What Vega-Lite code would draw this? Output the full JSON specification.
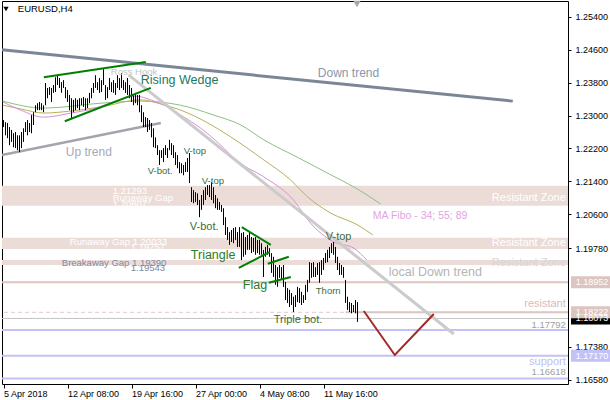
{
"$schema":"https://vega.github.io/schema/vega-lite/v6.json",
"width":566,"height":383,
"autosize":{"type":"none"},
"padding":{"left":2,"top":1,"right":42,"bottom":16},
"background":"#ffffff",
"config":{"view":{"stroke":"#000000","strokeWidth":1},"font":"Liberation Sans","text":{"font":"Liberation Sans"},"axis":{"grid":false,"domain":false,"labelFont":"Liberation Sans","labelFontSize":9,"labelColor":"#000000","tickColor":"#000000"}},
"layer":[
{"data":{"values":[{"p":1.20807,"p2":1.21293},{"p":1.19757,"p2":1.20033},{"p":1.1937,"p2":1.1949}]},
 "mark":{"type":"rect","color":"#ecdcd8"},
 "encoding":{"y":{"field":"p","type":"quantitative","scale":{"domain":[1.164815,1.25781],"nice":false,"zero":false}},"y2":{"field":"p2"}}},
{"data":{"values":[{"p":1.18952}]},"mark":{"type":"rule","color":"#dcc4c0","strokeWidth":2},
 "encoding":{"y":{"field":"p","type":"quantitative","scale":{"domain":[1.164815,1.25781],"nice":false,"zero":false}}}},
{"data":{"values":[{"p":1.18222}]},"mark":{"type":"rule","color":"#e2cccc","strokeWidth":1,"strokeDash":[4,3]},
 "encoding":{"y":{"field":"p","type":"quantitative","scale":{"domain":[1.164815,1.25781],"nice":false,"zero":false}}}},
{"data":{"values":[{"p":1.18222}]},"mark":{"type":"rule","color":"#dcc4c0","strokeWidth":2},
 "encoding":{"x":{"datum":171,"type":"quantitative","scale":{"domain":[-0.75,282.25],"nice":false,"zero":false}},"x2":{"datum":282.25},
 "y":{"field":"p","type":"quantitative","scale":{"domain":[1.164815,1.25781],"nice":false,"zero":false}}}},
{"data":{"values":[{"p":1.18073}]},"mark":{"type":"rule","color":"#c4c4c4","strokeWidth":1},
 "encoding":{"y":{"field":"p","type":"quantitative","scale":{"domain":[1.164815,1.25781],"nice":false,"zero":false}}}},
{"data":{"values":[{"p":1.17792},{"p":1.1717},{"p":1.16618}]},"mark":{"type":"rule","color":"#c2c2f6","strokeWidth":2},
 "encoding":{"y":{"field":"p","type":"quantitative","scale":{"domain":[1.164815,1.25781],"nice":false,"zero":false}}}},
{"data":{"values":[{"i":-0.35,"p":1.2335},{"i":20.15,"p":1.2318},{"i":48.65,"p":1.2330},{"i":68.65,"p":1.2335},{"i":88.65,"p":1.2325},{"i":105.15,"p":1.2301},{"i":118.65,"p":1.2277},{"i":130.15,"p":1.2241},{"i":147.65,"p":1.2197},{"i":163.65,"p":1.2156},{"i":176.15,"p":1.2124},{"i":188.65,"p":1.2085}]},
 "mark":{"type":"line","color":"#8cbf84","strokeWidth":1,"interpolate":"monotone"},
 "encoding":{"x":{"field":"i","type":"quantitative","scale":{"domain":[-0.75,282.25],"nice":false,"zero":false}},"y":{"field":"p","type":"quantitative","scale":{"domain":[1.164815,1.25781],"nice":false,"zero":false}}}},
{"data":{"values":[{"i":-0.35,"p":1.2325},{"i":8.65,"p":1.2316},{"i":20.15,"p":1.2306},{"i":33.65,"p":1.2311},{"i":48.65,"p":1.2321},{"i":68.65,"p":1.2338},{"i":78.65,"p":1.2328},{"i":88.65,"p":1.2313},{"i":102.15,"p":1.2282},{"i":113.65,"p":1.2248},{"i":129.65,"p":1.2194},{"i":143.65,"p":1.2143},{"i":152.15,"p":1.2102},{"i":163.65,"p":1.2063},{"i":177.15,"p":1.2034},{"i":184.65,"p":1.2010}]},
 "mark":{"type":"line","color":"#b8b058","strokeWidth":1,"interpolate":"monotone"},
 "encoding":{"x":{"field":"i","type":"quantitative","scale":{"domain":[-0.75,282.25],"nice":false,"zero":false}},"y":{"field":"p","type":"quantitative","scale":{"domain":[1.164815,1.25781],"nice":false,"zero":false}}}},
{"data":{"values":[{"i":-0.35,"p":1.2333},{"i":8.65,"p":1.2313},{"i":20.15,"p":1.2296},{"i":33.65,"p":1.2306},{"i":46.15,"p":1.2318},{"i":56.15,"p":1.2335},{"i":66.15,"p":1.2347},{"i":73.65,"p":1.2338},{"i":81.15,"p":1.2323},{"i":88.65,"p":1.2301},{"i":98.65,"p":1.2269},{"i":108.65,"p":1.2228},{"i":116.15,"p":1.2192},{"i":130.15,"p":1.2151},{"i":143.65,"p":1.2102},{"i":155.15,"p":1.2030},{"i":165.15,"p":1.1993},{"i":175.15,"p":1.1978},{"i":181.65,"p":1.1949}]},
 "mark":{"type":"line","color":"#d98fd9","strokeWidth":1,"interpolate":"monotone"},
 "encoding":{"x":{"field":"i","type":"quantitative","scale":{"domain":[-0.75,282.25],"nice":false,"zero":false}},"y":{"field":"p","type":"quantitative","scale":{"domain":[1.164815,1.25781],"nice":false,"zero":false}}}},
{"data":{"values":[{"i":-0.75,"p":1.24595},{"i":254.65,"p":1.2335}]},
 "mark":{"type":"line","color":"#7b8797","strokeWidth":3},
 "encoding":{"x":{"field":"i","type":"quantitative","scale":{"domain":[-0.75,282.25],"nice":false,"zero":false}},"y":{"field":"p","type":"quantitative","scale":{"domain":[1.164815,1.25781],"nice":false,"zero":false}}}},
{"data":{"values":[{"i":-0.75,"p":1.2204},{"i":78.65,"p":1.2282}]},
 "mark":{"type":"line","color":"#a4a4ac","strokeWidth":2.5},
 "encoding":{"x":{"field":"i","type":"quantitative","scale":{"domain":[-0.75,282.25],"nice":false,"zero":false}},"y":{"field":"p","type":"quantitative","scale":{"domain":[1.164815,1.25781],"nice":false,"zero":false}}}},
{"data":{"values":[{"i":62.65,"p":1.2398},{"i":225.15,"p":1.17696}]},
 "mark":{"type":"line","color":"#cbcbcb","strokeWidth":3},
 "encoding":{"x":{"field":"i","type":"quantitative","scale":{"domain":[-0.75,282.25],"nice":false,"zero":false}},"y":{"field":"p","type":"quantitative","scale":{"domain":[1.164815,1.25781],"nice":false,"zero":false}}}},
{"data":{"values":[
{"i":0,"h":1.2289,"l":1.2272},{"i":1,"h":1.2284,"l":1.2252},{"i":2,"h":1.2282,"l":1.2245},{"i":3,"h":1.2272,"l":1.2228},{"i":4,"h":1.2265,"l":1.2236},{"i":5,"h":1.2257,"l":1.2223},{"i":6,"h":1.2260,"l":1.2221},{"i":7,"h":1.2252,"l":1.2216},{"i":8,"h":1.2252,"l":1.2211},{"i":9,"h":1.2260,"l":1.2221},
{"i":10,"h":1.2269,"l":1.2236},{"i":11,"h":1.2284,"l":1.2260},{"i":12,"h":1.2289,"l":1.2252},{"i":13,"h":1.2282,"l":1.2260},{"i":14,"h":1.2301,"l":1.2257},{"i":15,"h":1.2308,"l":1.2277},{"i":16,"h":1.2325,"l":1.2308},{"i":17,"h":1.2330,"l":1.2313},{"i":18,"h":1.2333,"l":1.2313},{"i":19,"h":1.2330,"l":1.2313},
{"i":20,"h":1.2325,"l":1.2308},{"i":21,"h":1.2379,"l":1.2325},{"i":22,"h":1.2367,"l":1.2342},{"i":23,"h":1.2369,"l":1.2350},{"i":24,"h":1.2367,"l":1.2333},{"i":25,"h":1.2374,"l":1.2355},{"i":26,"h":1.2393,"l":1.2357},{"i":27,"h":1.2398,"l":1.2374},{"i":28,"h":1.2391,"l":1.2367},{"i":29,"h":1.2381,"l":1.2355},
{"i":30,"h":1.2386,"l":1.2367},{"i":31,"h":1.2369,"l":1.2342},{"i":32,"h":1.2362,"l":1.2333},{"i":33,"h":1.2350,"l":1.2313},{"i":34,"h":1.2342,"l":1.2294},{"i":35,"h":1.2338,"l":1.2308},{"i":36,"h":1.2342,"l":1.2313},{"i":37,"h":1.2338,"l":1.2318},{"i":38,"h":1.2342,"l":1.2313},{"i":39,"h":1.2342,"l":1.2325},
{"i":40,"h":1.2345,"l":1.2321},{"i":41,"h":1.2342,"l":1.2313},{"i":42,"h":1.2342,"l":1.2318},{"i":43,"h":1.2355,"l":1.2330},{"i":44,"h":1.2367,"l":1.2342},{"i":45,"h":1.2379,"l":1.2355},{"i":46,"h":1.2398,"l":1.2367},{"i":47,"h":1.2381,"l":1.2362},{"i":48,"h":1.2391,"l":1.2355},{"i":49,"h":1.2386,"l":1.2357},
{"i":50,"h":1.2415,"l":1.2374},{"i":51,"h":1.2374,"l":1.2338},{"i":52,"h":1.2369,"l":1.2342},{"i":53,"h":1.2391,"l":1.2362},{"i":54,"h":1.2381,"l":1.2357},{"i":55,"h":1.2386,"l":1.2355},{"i":56,"h":1.2379,"l":1.2350},{"i":57,"h":1.2398,"l":1.2367},{"i":58,"h":1.2391,"l":1.2362},{"i":59,"h":1.2403,"l":1.2367},
{"i":60,"h":1.2386,"l":1.2362},{"i":61,"h":1.2381,"l":1.2355},{"i":62,"h":1.2391,"l":1.2350},{"i":63,"h":1.2374,"l":1.2342},{"i":64,"h":1.2367,"l":1.2333},{"i":65,"h":1.2350,"l":1.2325},{"i":66,"h":1.2355,"l":1.2330},{"i":67,"h":1.2350,"l":1.2325},{"i":68,"h":1.2350,"l":1.2308},{"i":69,"h":1.2325,"l":1.2284},
{"i":70,"h":1.2308,"l":1.2272},{"i":71,"h":1.2296,"l":1.2272},{"i":72,"h":1.2294,"l":1.2260},{"i":73,"h":1.2289,"l":1.2265},{"i":74,"h":1.2282,"l":1.2247},{"i":75,"h":1.2269,"l":1.2223},{"i":76,"h":1.2247,"l":1.2221},{"i":77,"h":1.2228,"l":1.2204},{"i":78,"h":1.2216,"l":1.2180},{"i":79,"h":1.2216,"l":1.2197},
{"i":80,"h":1.2221,"l":1.2187},{"i":81,"h":1.2228,"l":1.2204},{"i":82,"h":1.2221,"l":1.2197},{"i":83,"h":1.2241,"l":1.2216},{"i":84,"h":1.2233,"l":1.2204},{"i":85,"h":1.2228,"l":1.2197},{"i":86,"h":1.2211,"l":1.2180},{"i":87,"h":1.2204,"l":1.2172},{"i":88,"h":1.2187,"l":1.2160},{"i":89,"h":1.2184,"l":1.2160},
{"i":90,"h":1.2180,"l":1.2155},{"i":91,"h":1.2187,"l":1.2163},{"i":92,"h":1.2197,"l":1.2163},{"i":93,"h":1.2209,"l":1.2136},{"i":94,"h":1.2126,"l":1.2090},{"i":95,"h":1.2119,"l":1.2087},{"i":96,"h":1.2114,"l":1.2090},{"i":97,"h":1.2111,"l":1.2083},{"i":98,"h":1.2095,"l":1.2053},{"i":99,"h":1.2107,"l":1.2071},
{"i":100,"h":1.2119,"l":1.2083},{"i":101,"h":1.2126,"l":1.2095},{"i":102,"h":1.2131,"l":1.2107},{"i":103,"h":1.2131,"l":1.2102},{"i":104,"h":1.2138,"l":1.2095},{"i":105,"h":1.2126,"l":1.2087},{"i":106,"h":1.2107,"l":1.2075},{"i":107,"h":1.2099,"l":1.2071},{"i":108,"h":1.2090,"l":1.2071},{"i":109,"h":1.2083,"l":1.2066},
{"i":110,"h":1.2075,"l":1.2034},{"i":111,"h":1.2053,"l":1.2010},{"i":112,"h":1.2029,"l":1.1998},{"i":113,"h":1.2017,"l":1.1986},{"i":114,"h":1.2022,"l":1.1993},{"i":115,"h":1.2027,"l":1.1990},{"i":116,"h":1.2029,"l":1.1998},{"i":117,"h":1.2017,"l":1.1981},{"i":118,"h":1.2029,"l":1.1981},{"i":119,"h":1.2015,"l":1.1949},
{"i":120,"h":1.2017,"l":1.1957},{"i":121,"h":1.2005,"l":1.1962},{"i":122,"h":1.2010,"l":1.1974},{"i":123,"h":1.2017,"l":1.1974},{"i":124,"h":1.2005,"l":1.1966},{"i":125,"h":1.2003,"l":1.1969},{"i":126,"h":1.2005,"l":1.1962},{"i":127,"h":1.1998,"l":1.1966},{"i":128,"h":1.1998,"l":1.1962},{"i":129,"h":1.1990,"l":1.1962},
{"i":130,"h":1.1974,"l":1.1908},{"i":131,"h":1.1981,"l":1.1957},{"i":132,"h":1.1986,"l":1.1962},{"i":133,"h":1.1978,"l":1.1957},{"i":134,"h":1.1966,"l":1.1918},{"i":135,"h":1.1957,"l":1.1908},{"i":136,"h":1.1937,"l":1.1889},{"i":137,"h":1.1932,"l":1.1884},{"i":138,"h":1.1937,"l":1.1906},{"i":139,"h":1.1932,"l":1.1901},
{"i":140,"h":1.1937,"l":1.1884},{"i":141,"h":1.1896,"l":1.1852},{"i":142,"h":1.1881,"l":1.1845},{"i":143,"h":1.1877,"l":1.1835},{"i":144,"h":1.1869,"l":1.1840},{"i":145,"h":1.1860,"l":1.1823},{"i":146,"h":1.1864,"l":1.1835},{"i":147,"h":1.1884,"l":1.1847},{"i":148,"h":1.1881,"l":1.1845},{"i":149,"h":1.1872,"l":1.1840},
{"i":150,"h":1.1864,"l":1.1845},{"i":151,"h":1.1889,"l":1.1852},{"i":152,"h":1.1901,"l":1.1872},{"i":153,"h":1.1944,"l":1.1894},{"i":154,"h":1.1942,"l":1.1906},{"i":155,"h":1.1944,"l":1.1908},{"i":156,"h":1.1932,"l":1.1908},{"i":157,"h":1.1942,"l":1.1913},{"i":158,"h":1.1944,"l":1.1894},{"i":159,"h":1.1949,"l":1.1913},
{"i":160,"h":1.1954,"l":1.1925},{"i":161,"h":1.1966,"l":1.1942},{"i":162,"h":1.1974,"l":1.1944},{"i":163,"h":1.1981,"l":1.1954},{"i":164,"h":1.1990,"l":1.1966},{"i":165,"h":1.1993,"l":1.1962},{"i":166,"h":1.1981,"l":1.1942},{"i":167,"h":1.1957,"l":1.1925},{"i":168,"h":1.1942,"l":1.1913},{"i":169,"h":1.1937,"l":1.1913},
{"i":170,"h":1.1932,"l":1.1906},{"i":171,"h":1.1901,"l":1.1845},{"i":172,"h":1.1860,"l":1.1828},{"i":173,"h":1.1847,"l":1.1823},{"i":174,"h":1.1845,"l":1.1820},{"i":175,"h":1.1840,"l":1.1823},{"i":176,"h":1.1852,"l":1.1820},{"i":177,"h":1.1847,"l":1.1799}]},
 "mark":{"type":"rule","color":"#000000","strokeWidth":1},
 "encoding":{
  "x":{"field":"i","type":"quantitative","scale":{"domain":[-0.75,282.25],"nice":false,"zero":false},
   "axis":{"orient":"bottom","values":[0,32,64,96,128,160],"labelExpr":"datum.value == 0 ? '5 Apr 2018' : datum.value == 32 ? '12 Apr 08:00' : datum.value == 64 ? '19 Apr 16:00' : datum.value == 96 ? '27 Apr 00:00' : datum.value == 128 ? '4 May 08:00' : '11 May 16:00'","title":null,"grid":false,"domain":false,"ticks":true,"tickColor":"#000000","tickSize":4,"labelAlign":"left","labelBaseline":"top","labelPadding":1,"labelFont":"Liberation Sans","labelFontSize":9,"labelColor":"#000000","labelOverlap":false,"labelFlush":false,"labelBound":false}},
  "y":{"field":"l","type":"quantitative","scale":{"domain":[1.164815,1.25781],"nice":false,"zero":false},
   "axis":{"orient":"right","values":[1.254,1.246,1.238,1.23,1.222,1.214,1.206,1.1978,1.1738,1.1658],"format":".5f","title":null,"grid":false,"domain":false,"tickColor":"#000000","tickSize":3,"labelPadding":4,"labelFont":"Liberation Sans","labelFontSize":9,"labelColor":"#000000","labelOverlap":false,"labelFlush":false,"labelBound":false}},
  "y2":{"field":"h"}}},
{"data":{"values":[
 {"id":"wu","i":20.15,"p":1.2393},{"id":"wu","i":71.15,"p":1.2430},
 {"id":"wl","i":30.65,"p":1.2286},{"id":"wl","i":73.65,"p":1.2367},
 {"id":"tu","i":119.15,"p":1.2029},{"id":"tu","i":133.65,"p":1.1986},
 {"id":"tl","i":117.65,"p":1.1930},{"id":"tl","i":133.15,"p":1.1969},
 {"id":"fu","i":132.15,"p":1.1940},{"id":"fu","i":142.65,"p":1.1957},
 {"id":"fl","i":132.65,"p":1.1894},{"id":"fl","i":143.65,"p":1.1908}]},
 "mark":{"type":"line","color":"#008000","strokeWidth":2},
 "encoding":{"detail":{"field":"id"},"x":{"field":"i","type":"quantitative","scale":{"domain":[-0.75,282.25],"nice":false,"zero":false}},"y":{"field":"p","type":"quantitative","scale":{"domain":[1.164815,1.25781],"nice":false,"zero":false}}}},
{"data":{"values":[{"i":180.15,"p":1.18254},{"i":195.65,"p":1.17186},{"i":215.15,"p":1.18181}]},
 "mark":{"type":"line","color":"#a52a2a","strokeWidth":2},
 "encoding":{"x":{"field":"i","type":"quantitative","scale":{"domain":[-0.75,282.25],"nice":false,"zero":false}},"y":{"field":"p","type":"quantitative","scale":{"domain":[1.164815,1.25781],"nice":false,"zero":false}}}},
{"data":{"values":[{"i":1.25,"p":1.25587}]},"mark":{"type":"point","shape":"triangle-down","filled":true,"color":"#000000","size":28,"opacity":1},
 "encoding":{"x":{"field":"i","type":"quantitative","scale":{"domain":[-0.75,282.25],"nice":false,"zero":false}},"y":{"field":"p","type":"quantitative","scale":{"domain":[1.164815,1.25781],"nice":false,"zero":false}}}},
{"data":{"values":[{"i":176.75,"p":1.25708}]},"mark":{"type":"point","shape":"triangle-down","filled":true,"color":"#a8a8a8","size":55,"opacity":1},
 "encoding":{"x":{"field":"i","type":"quantitative","scale":{"domain":[-0.75,282.25],"nice":false,"zero":false}},"y":{"field":"p","type":"quantitative","scale":{"domain":[1.164815,1.25781],"nice":false,"zero":false}}}},
{"data":{"values":[{"i":7.15,"p":1.2559,"t":"EURUSD,H4"}]},"mark":{"type":"text","align":"left","baseline":"middle","fontSize":9.5,"color":"#000000"},
 "encoding":{"x":{"field":"i","type":"quantitative","scale":{"domain":[-0.75,282.25],"nice":false,"zero":false}},"y":{"field":"p","type":"quantitative","scale":{"domain":[1.164815,1.25781],"nice":false,"zero":false}},"text":{"field":"t"}}},
{"data":{"values":[{"i":53.65,"p":1.2406,"t":"Ross Hook"}]},"mark":{"type":"text","align":"left","baseline":"middle","fontSize":9.5,"color":"#c4c4c4"},
 "encoding":{"x":{"field":"i","type":"quantitative","scale":{"domain":[-0.75,282.25],"nice":false,"zero":false}},"y":{"field":"p","type":"quantitative","scale":{"domain":[1.164815,1.25781],"nice":false,"zero":false}},"text":{"field":"t"}}},
{"data":{"values":[{"i":68.65,"p":1.2386,"t":"Rising Wedge"}]},"mark":{"type":"text","align":"left","baseline":"middle","fontSize":12.5,"color":"#1b7a5e"},
 "encoding":{"x":{"field":"i","type":"quantitative","scale":{"domain":[-0.75,282.25],"nice":false,"zero":false}},"y":{"field":"p","type":"quantitative","scale":{"domain":[1.164815,1.25781],"nice":false,"zero":false}},"text":{"field":"t"}}},
{"data":{"values":[{"i":157.15,"p":1.2403,"t":"Down trend"}]},"mark":{"type":"text","align":"left","baseline":"middle","fontSize":12,"color":"#8a96aa"},
 "encoding":{"x":{"field":"i","type":"quantitative","scale":{"domain":[-0.75,282.25],"nice":false,"zero":false}},"y":{"field":"p","type":"quantitative","scale":{"domain":[1.164815,1.25781],"nice":false,"zero":false}},"text":{"field":"t"}}},
{"data":{"values":[{"i":31.15,"p":1.2211,"t":"Up trend"}]},"mark":{"type":"text","align":"left","baseline":"middle","fontSize":12,"color":"#a8a8b8"},
 "encoding":{"x":{"field":"i","type":"quantitative","scale":{"domain":[-0.75,282.25],"nice":false,"zero":false}},"y":{"field":"p","type":"quantitative","scale":{"domain":[1.164815,1.25781],"nice":false,"zero":false}},"text":{"field":"t"}}},
{"data":{"values":[{"i":72.15,"p":1.2165,"t":"V-bot."},{"i":90.15,"p":1.2214,"t":"V-top"},{"i":99.15,"p":1.2141,"t":"V-top"},{"i":156.15,"p":1.1874,"t":"Thorn"}]},"mark":{"type":"text","align":"left","baseline":"middle","fontSize":9.5,"color":"#3a6e3a"},
 "encoding":{"x":{"field":"i","type":"quantitative","scale":{"domain":[-0.75,282.25],"nice":false,"zero":false}},"y":{"field":"p","type":"quantitative","scale":{"domain":[1.164815,1.25781],"nice":false,"zero":false}},"text":{"field":"t"}}},
{"data":{"values":[{"i":93.15,"p":1.2029,"t":"V-bot."},{"i":161.15,"p":1.2005,"t":"V-top"},{"i":135.15,"p":1.1804,"t":"Triple bot."}]},"mark":{"type":"text","align":"left","baseline":"middle","fontSize":11,"color":"#3a6e3a"},
 "encoding":{"x":{"field":"i","type":"quantitative","scale":{"domain":[-0.75,282.25],"nice":false,"zero":false}},"y":{"field":"p","type":"quantitative","scale":{"domain":[1.164815,1.25781],"nice":false,"zero":false}},"text":{"field":"t"}}},
{"data":{"values":[{"i":93.65,"p":1.1962,"t":"Triangle"},{"i":119.65,"p":1.1889,"t":"Flag"}]},"mark":{"type":"text","align":"left","baseline":"middle","fontSize":12.5,"color":"#2b7a2b"},
 "encoding":{"x":{"field":"i","type":"quantitative","scale":{"domain":[-0.75,282.25],"nice":false,"zero":false}},"y":{"field":"p","type":"quantitative","scale":{"domain":[1.164815,1.25781],"nice":false,"zero":false}},"text":{"field":"t"}}},
{"data":{"values":[{"i":192.65,"p":1.1920,"t":"local Down trend"}]},"mark":{"type":"text","align":"left","baseline":"middle","fontSize":12.5,"color":"#b4b4b4"},
 "encoding":{"x":{"field":"i","type":"quantitative","scale":{"domain":[-0.75,282.25],"nice":false,"zero":false}},"y":{"field":"p","type":"quantitative","scale":{"domain":[1.164815,1.25781],"nice":false,"zero":false}},"text":{"field":"t"}}},
{"data":{"values":[{"i":184.65,"p":1.2056,"t":"MA Fibo - 34; 55; 89"}]},"mark":{"type":"text","align":"left","baseline":"middle","fontSize":10.5,"color":"#e3a3e3"},
 "encoding":{"x":{"field":"i","type":"quantitative","scale":{"domain":[-0.75,282.25],"nice":false,"zero":false}},"y":{"field":"p","type":"quantitative","scale":{"domain":[1.164815,1.25781],"nice":false,"zero":false}},"text":{"field":"t"}}},
{"data":{"values":[{"i":54.65,"p":1.2117,"t":"1.21293"},{"i":54.65,"p":1.2100,"t":"Runaway Gap"},{"i":54.65,"p":1.2085,"t":"1.20807"},{"i":33.15,"p":1.1993,"t":"Runaway Gap 1.20033"},{"i":63.65,"p":1.1981,"t":"1.19757"}]},"mark":{"type":"text","align":"left","baseline":"middle","fontSize":9.5,"color":"#ffffff"},
 "encoding":{"x":{"field":"i","type":"quantitative","scale":{"domain":[-0.75,282.25],"nice":false,"zero":false}},"y":{"field":"p","type":"quantitative","scale":{"domain":[1.164815,1.25781],"nice":false,"zero":false}},"text":{"field":"t"}}},
{"data":{"values":[{"i":29.15,"p":1.1942,"t":"Breakaway Gap 1.19390"},{"i":63.65,"p":1.1930,"t":"1.19543"}]},"mark":{"type":"text","align":"left","baseline":"middle","fontSize":9.5,"color":"#7a8aa2"},
 "encoding":{"x":{"field":"i","type":"quantitative","scale":{"domain":[-0.75,282.25],"nice":false,"zero":false}},"y":{"field":"p","type":"quantitative","scale":{"domain":[1.164815,1.25781],"nice":false,"zero":false}},"text":{"field":"t"}}},
{"data":{"values":[{"i":281.15,"p":1.2100,"t":"Resistant Zone"},{"i":281.15,"p":1.1990,"t":"Resistant Zone"}]},"mark":{"type":"text","align":"right","baseline":"middle","fontSize":11,"color":"#ffffff"},
 "encoding":{"x":{"field":"i","type":"quantitative","scale":{"domain":[-0.75,282.25],"nice":false,"zero":false}},"y":{"field":"p","type":"quantitative","scale":{"domain":[1.164815,1.25781],"nice":false,"zero":false}},"text":{"field":"t"}}},
{"data":{"values":[{"i":281.15,"p":1.1942,"t":"Resistant Zone"}]},"mark":{"type":"text","align":"right","baseline":"middle","fontSize":11,"color":"#d6d6d6"},
 "encoding":{"x":{"field":"i","type":"quantitative","scale":{"domain":[-0.75,282.25],"nice":false,"zero":false}},"y":{"field":"p","type":"quantitative","scale":{"domain":[1.164815,1.25781],"nice":false,"zero":false}},"text":{"field":"t"}}},
{"data":{"values":[{"i":281.15,"p":1.1842,"t":"resistant"}]},"mark":{"type":"text","align":"right","baseline":"middle","fontSize":11,"color":"#d8bcb8"},
 "encoding":{"x":{"field":"i","type":"quantitative","scale":{"domain":[-0.75,282.25],"nice":false,"zero":false}},"y":{"field":"p","type":"quantitative","scale":{"domain":[1.164815,1.25781],"nice":false,"zero":false}},"text":{"field":"t"}}},
{"data":{"values":[{"i":281.15,"p":1.1702,"t":"support"}]},"mark":{"type":"text","align":"right","baseline":"middle","fontSize":11,"color":"#c0c0f2"},
 "encoding":{"x":{"field":"i","type":"quantitative","scale":{"domain":[-0.75,282.25],"nice":false,"zero":false}},"y":{"field":"p","type":"quantitative","scale":{"domain":[1.164815,1.25781],"nice":false,"zero":false}},"text":{"field":"t"}}},
{"data":{"values":[{"i":281.15,"p":1.17914,"t":"1.17792"},{"i":281.15,"p":1.16773,"t":"1.16618"}]},"mark":{"type":"text","align":"right","baseline":"middle","fontSize":9.5,"color":"#a0a0a0"},
 "encoding":{"x":{"field":"i","type":"quantitative","scale":{"domain":[-0.75,282.25],"nice":false,"zero":false}},"y":{"field":"p","type":"quantitative","scale":{"domain":[1.164815,1.25781],"nice":false,"zero":false}},"text":{"field":"t"}}},
{"data":{"values":[{"p":1.18952,"t":"1.18952","k":"resist"},{"p":1.18222,"t":"1.18222","k":"resist"},{"p":1.1717,"t":"1.17170","k":"support"},{"p":1.18073,"t":"1.18073","k":"bid"}]},
 "layer":[
  {"mark":{"type":"tick","orient":"horizontal","size":42,"thickness":12,"opacity":1},
   "encoding":{"x":{"datum":294.25,"type":"quantitative","scale":{"domain":[-0.75,282.25],"nice":false,"zero":false}},"y":{"field":"p","type":"quantitative","scale":{"domain":[1.164815,1.25781],"nice":false,"zero":false}},
    "color":{"field":"k","type":"nominal","scale":{"domain":["resist","support","bid"],"range":["#dcc4c0","#c2c2f6","#000000"]},"legend":null},
    "order":{"field":"k","sort":"ascending"}}},
  {"mark":{"type":"text","align":"center","baseline":"middle","fontSize":9,"color":"#ffffff"},
   "encoding":{"x":{"datum":294.25,"type":"quantitative","scale":{"domain":[-0.75,282.25],"nice":false,"zero":false}},"y":{"field":"p","type":"quantitative","scale":{"domain":[1.164815,1.25781],"nice":false,"zero":false}},"text":{"field":"t"}}}
 ]}
]
}
